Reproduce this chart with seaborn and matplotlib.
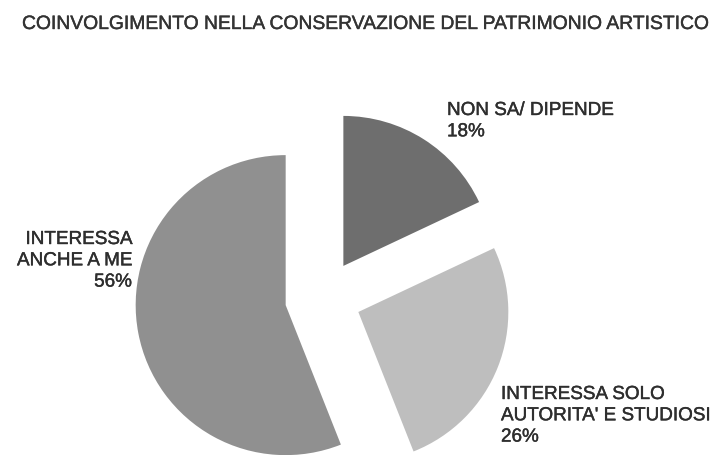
import matplotlib
matplotlib.use("Agg")
import matplotlib.pyplot as plt
import matplotlib.patheffects as pe
import seaborn as sns

# Survey answers, clockwise from 12 o'clock
categories = ["NON SA/ DIPENDE", "INTERESSA SOLO\nAUTORITA' E STUDIOSI", "INTERESSA\nANCHE A ME"]
shares = [18, 26, 56]
slice_colors = ["#6e6e6e", "#bebebe", "#909090"]
title = "COINVOLGIMENTO NELLA CONSERVAZIONE DEL PATRIMONIO ARTISTICO"

sns.set_theme(style="white")
plt.rcParams["font.family"] = ["Liberation Sans", "DejaVu Sans"]

W, H = 716, 455
fig = plt.figure(figsize=(W / 100, H / 100), dpi=100)
ax = fig.add_axes([0, 0, 1, 1])

center = (323, H - 298)
radius = 150
explode_px = 38

ax.pie(
    shares,
    colors=slice_colors,
    startangle=90,
    counterclock=False,
    center=center,
    radius=radius,
    explode=[explode_px] * len(shares),
    wedgeprops=dict(linewidth=0),
    frame=True,
)
ax.set_xlim(0, W)
ax.set_ylim(0, H)
ax.set_aspect("equal")
ax.axis("off")

txt_color = "#2e2e2e"
fs = 13.6
ls = 1.33
# slightly heavier strokes for the lettering
heavy = [pe.withStroke(linewidth=0.3, foreground=txt_color)]

ax.text(447, H - 102, f"{categories[0]}\n{shares[0]}%", ha="left", va="top",
        fontsize=fs, color=txt_color, linespacing=ls, path_effects=heavy)
ax.text(501, H - 386, f"{categories[1]}\n{shares[1]}%", ha="left", va="top",
        fontsize=fs, color=txt_color, linespacing=ls, path_effects=heavy)
ax.text(132, H - 231, f"{categories[2]}\n{shares[2]}%", ha="right", va="top",
        fontsize=fs, color=txt_color, linespacing=ls, multialignment="right",
        path_effects=heavy)

ax.text(22, H - 16, title, ha="left", va="top", fontsize=13.9, color="#333333",
        path_effects=[pe.withStroke(linewidth=0.3, foreground="#333333")])

fig.savefig("out.png", dpi=100)
